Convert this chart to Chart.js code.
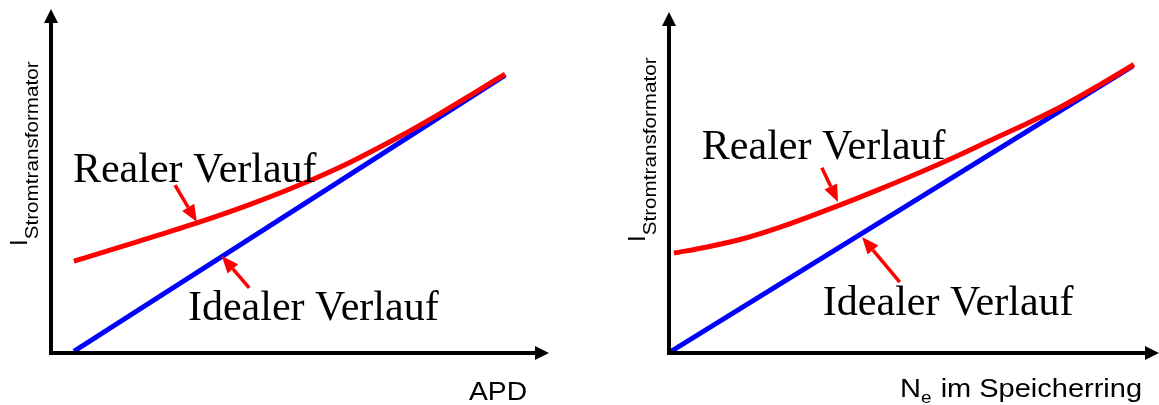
<!DOCTYPE html>
<html lang="de">
<head>
<meta charset="utf-8">
<title>Stromtransformator</title>
<script src="https://cdn.jsdelivr.net/npm/chart.js@4.4.1/dist/chart.umd.min.js"></script>
<style>
  html, body { margin: 0; padding: 0; background: #fff; }
  .wrap { display: flex; width: 1159px; height: 405px; }
  canvas { display: block; }
</style>
</head>
<body>
<div class="wrap">
  <canvas id="chartApd" width="580" height="405"></canvas>
  <canvas id="chartNe" width="579" height="405"></canvas>
</div>
<script>
// Both panels use an unscaled 0..100 range on each axis
const axisMax = 100;

const curveNames = ['Realer Verlauf', 'Idealer Verlauf'];
const yTitle = ['I', 'Stromtransformator'];
const xTitleApd = ['APD', '', ''];
const xTitleNe = ['N', 'e', ' im Speicherring'];

// Left panel: current vs. APD
const apdIdealX = [4.6, 91.2];
const apdIdealY = [0.5, 80.8];
const apdRealX = [4.6, 11.2, 17.9, 29.3, 40.0, 50.0, 60.0, 70.1, 78.1, 85.1, 91.2];
const apdRealY = [26.7, 29.6, 32.6, 37.8, 43.2, 48.9, 55.4, 63.0, 69.6, 75.7, 81.1];
// label anchors [x, baseline] and arrows [tailX, tailY, tipX, tipY]
const apdLabelAt = [[4.4, 49.7], [27.5, 9.6]];
const apdArrows = [[24.9, 48.8, 29.3, 38.1], [39.8, 18.9, 34.3, 28.2]];

// Right panel: current vs. number of electrons in the storage ring
const neIdealX = [0.2, 94.7];
const neIdealY = [0.3, 84.2];
const neRealX = [1.0, 7.8, 15.1, 22.7, 34.7, 42.9, 51.4, 58.8, 66.1, 73.5, 80.0, 88.0, 94.9];
const neRealY = [29.3, 31.1, 33.5, 36.9, 43.3, 48.0, 53.1, 57.8, 62.7, 67.6, 72.2, 78.7, 84.6];
const neLabelAt = [[6.7, 56.9], [31.4, 11.1]];
const neArrows = [[31.2, 54.3, 34.5, 44.3], [47.1, 20.8, 39.4, 34.0]];

const SERIF = '42px "Liberation Serif", "Times New Roman", serif';
const SANS = '"Liberation Sans", Arial, sans-serif';

function toPoints(xs, ys) {
  return xs.map((x, i) => ({ x, y: ys[i] }));
}

// text stretched horizontally by sx, returns drawn width
function drawStretched(ctx, text, x, y, sx) {
  ctx.save();
  ctx.translate(x, y);
  ctx.scale(sx, 1);
  ctx.fillText(text, 0, 0);
  ctx.restore();
  return ctx.measureText(text).width * sx;
}

// main text + subscript + rest, stretched so the whole run is `width` long
function drawSubLabel(ctx, parts, x, y, size, subSize, width) {
  const [main, sub, rest] = parts;
  ctx.font = size + 'px ' + SANS;
  let w = ctx.measureText(main).width + ctx.measureText(rest).width;
  ctx.font = subSize + 'px ' + SANS;
  w += ctx.measureText(sub).width + (sub ? 1 : 0);
  const sx = width / w;
  ctx.font = size + 'px ' + SANS;
  let cx = x + drawStretched(ctx, main, x, y, sx);
  if (sub) {
    ctx.font = subSize + 'px ' + SANS;
    cx += drawStretched(ctx, sub, cx, y + size * 0.22, sx) + sx;
  }
  ctx.font = size + 'px ' + SANS;
  drawStretched(ctx, rest, cx, y, sx);
}

function drawArrow(ctx, x1, y1, x2, y2) {
  const ang = Math.atan2(y2 - y1, x2 - x1);
  const len = 17, half = 7;
  const bx = x2 - Math.cos(ang) * len, by = y2 - Math.sin(ang) * len;
  ctx.beginPath();
  ctx.moveTo(x1, y1);
  ctx.lineTo(bx, by);
  ctx.stroke();
  ctx.beginPath();
  ctx.moveTo(x2, y2);
  ctx.lineTo(bx + Math.sin(ang) * half, by - Math.cos(ang) * half);
  ctx.lineTo(bx - Math.sin(ang) * half, by + Math.cos(ang) * half);
  ctx.closePath();
  ctx.fill();
}

// axes with arrow heads, curve captions, pointer arrows and axis titles
const sketchPlugin = {
  id: 'sketch',
  afterDatasetsDraw(chart, args, opts) {
    const { ctx, chartArea: a, scales: { x, y } } = chart;
    const px = v => x.getPixelForValue(v);
    const py = v => y.getPixelForValue(v);
    ctx.save();

    ctx.strokeStyle = '#000';
    ctx.fillStyle = '#000';
    ctx.lineWidth = 4;
    ctx.beginPath();
    ctx.moveTo(a.left, a.bottom + 2);
    ctx.lineTo(a.left, a.top + 10);
    ctx.moveTo(a.left - 2, a.bottom);
    ctx.lineTo(a.right - 10, a.bottom);
    ctx.stroke();
    ctx.beginPath();
    ctx.moveTo(a.left, a.top);
    ctx.lineTo(a.left - 7, a.top + 14);
    ctx.lineTo(a.left + 7, a.top + 14);
    ctx.closePath();
    ctx.fill();
    ctx.beginPath();
    ctx.moveTo(a.right, a.bottom);
    ctx.lineTo(a.right - 14, a.bottom - 7);
    ctx.lineTo(a.right - 14, a.bottom + 7);
    ctx.closePath();
    ctx.fill();

    // captions
    ctx.font = SERIF;
    ctx.textBaseline = 'alphabetic';
    ctx.textAlign = 'left';
    opts.labelAt.forEach((p, i) => {
      ctx.fillText(curveNames[i], px(p[0]), py(p[1]));
    });

    // pointer arrows
    ctx.strokeStyle = '#ff0000';
    ctx.fillStyle = '#ff0000';
    ctx.lineWidth = 3.5;
    opts.arrows.forEach(r => drawArrow(ctx, px(r[0]), py(r[1]), px(r[2]), py(r[3])));

    // x title
    ctx.fillStyle = '#000';
    drawSubLabel(ctx, opts.xTitle, opts.xTitlePos[0], opts.xTitlePos[1], 26, 17, opts.xTitlePos[2]);

    // y title, rotated
    ctx.save();
    ctx.translate(a.left - 24, a.bottom - opts.yTitleRise);
    ctx.rotate(-Math.PI / 2);
    ctx.font = '24px ' + SANS;
    ctx.fillText(yTitle[0], 0, 0);
    const iw = ctx.measureText(yTitle[0]).width;
    ctx.font = '19px ' + SANS;
    const sw = ctx.measureText(yTitle[1]).width;
    drawStretched(ctx, yTitle[1], iw, 11, 178 / sw);
    ctx.restore();

    ctx.restore();
  }
};

function makeChart(id, idealX, idealY, realX, realY, padding, opts) {
  return new Chart(document.getElementById(id), {
    type: 'line',
    data: {
      datasets: [
        {
          label: curveNames[0],
          data: toPoints(realX, realY),
          borderColor: '#ff0000',
          borderWidth: 5,
          pointRadius: 0,
          cubicInterpolationMode: 'monotone',
          fill: false
        },
        {
          label: curveNames[1],
          data: toPoints(idealX, idealY),
          borderColor: '#0000ff',
          borderWidth: 5,
          pointRadius: 0,
          tension: 0,
          fill: false
        }
      ]
    },
    options: {
      responsive: false,
      animation: false,
      devicePixelRatio: 1,
      layout: { padding },
      plugins: {
        legend: { display: false },
        tooltip: { enabled: false },
        sketch: opts
      },
      scales: {
        x: { type: 'linear', min: 0, max: axisMax, display: false },
        y: { type: 'linear', min: 0, max: axisMax, display: false }
      }
    },
    plugins: [sketchPlugin]
  });
}

makeChart('chartApd', apdIdealX, apdIdealY, apdRealX, apdRealY,
  { left: 51, right: 31, top: 9, bottom: 52 },
  { labelAt: apdLabelAt, arrows: apdArrows, xTitle: xTitleApd, xTitlePos: [469, 400, 58], yTitleRise: 107 });

makeChart('chartNe', neIdealX, neIdealY, neRealX, neRealY,
  { left: 89, right: 0, top: 12, bottom: 52 },
  { labelAt: neLabelAt, arrows: neArrows, xTitle: xTitleNe, xTitlePos: [320, 397, 242], yTitleRise: 111 });
</script>
</body>
</html>
